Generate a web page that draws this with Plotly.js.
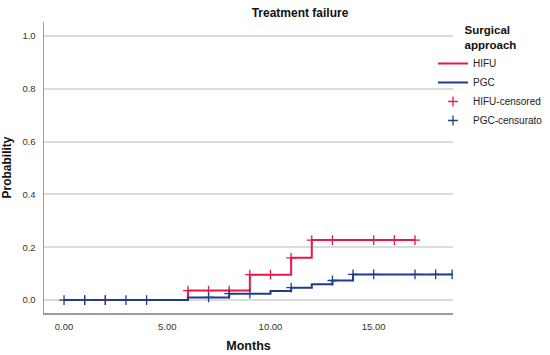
<!DOCTYPE html>
<html>
<head>
<meta charset="utf-8">
<script src="https://cdn.plot.ly/plotly-3.0.1.min.js"></script>
<style>html,body{margin:0;padding:0;background:#fff;}#chart{width:550px;height:355px;}</style>
</head>
<body>
<div id="chart"></div>
<script>
// Kaplan-Meier style step data (cumulative probability of treatment failure)
const hifuTime = [0, 6, 9, 11, 12, 17];
const hifuProb = [0, 0.036, 0.096, 0.160, 0.227, 0.227];
const pgcTime = [0, 6, 8, 10, 11, 12, 13, 14, 18.8];
const pgcProb = [0, 0.010, 0.024, 0.034, 0.047, 0.060, 0.074, 0.097, 0.097];

// Censored observations
const hifuCensTime = [1, 2, 6, 7, 8, 9, 10, 11, 12, 13, 15, 16, 17];
const hifuCensProb = [0, 0, 0.036, 0.036, 0.036, 0.096, 0.096, 0.160, 0.227, 0.227, 0.227, 0.227, 0.227];
const pgcCensTime = [0, 1, 2, 3, 4, 7, 8, 9, 11, 13, 14, 15, 17, 18, 18.8];
const pgcCensProb = [0, 0, 0, 0, 0, 0.010, 0.024, 0.024, 0.047, 0.074, 0.097, 0.097, 0.097, 0.097, 0.097];

const seriesNames = ['HIFU', 'PGC', 'HIFU-censored', 'PGC-censurato'];
const xTickVals = [0, 5, 10, 15];
const yTickVals = [0, 0.2, 0.4, 0.6, 0.8, 1.0];

const red = '#e31a4c';
const blue = '#1f3d8f';
const font = 'Liberation Sans, Arial, sans-serif';

const traces = [
  {x: hifuTime, y: hifuProb, name: seriesNames[0], mode: 'lines', line: {shape: 'hv', color: red, width: 2}},
  {x: pgcTime, y: pgcProb, name: seriesNames[1], mode: 'lines', line: {shape: 'hv', color: blue, width: 2}},
  {x: hifuCensTime, y: hifuCensProb, name: seriesNames[2], mode: 'markers',
   marker: {symbol: 'cross-thin-open', size: 7, color: red, line: {color: red, width: 1.3}}},
  {x: pgcCensTime, y: pgcCensProb, name: seriesNames[3], mode: 'markers',
   marker: {symbol: 'cross-thin-open', size: 7, color: blue, line: {color: blue, width: 1.3}}}
];

const layout = {
  width: 550, height: 355,
  margin: {l: 44, r: 97, t: 22, b: 42, pad: 0, autoexpand: false},
  paper_bgcolor: '#fff', plot_bgcolor: '#fff',
  font: {family: font, size: 10, color: '#333'},
  title: {text: '<b>Treatment failure</b>', font: {family: font, size: 12, color: '#111'},
          x: 300/550, xref: 'container', xanchor: 'center', y: 1 - 13/355, yref: 'container', yanchor: 'middle'},
  xaxis: {
    range: [-0.97, 18.84], tickvals: xTickVals, tickformat: '.2f',
    showgrid: false, zeroline: false, showline: true, linecolor: '#9a9a9a', linewidth: 1.5,
    ticks: '', ticklabelstandoff: 4, tickfont: {size: 9.5, color: '#333'},
    title: {text: '<b>Months</b>', font: {family: font, size: 12.5, color: '#111'}, standoff: 10}
  },
  yaxis: {
    range: [-0.049, 1.053], tickvals: yTickVals, tickformat: '.1f',
    showgrid: true, gridcolor: '#dcdcdc', gridwidth: 2, zeroline: false,
    showline: true, linecolor: '#9a9a9a', linewidth: 1.5,
    ticks: '', ticklabelstandoff: 5, tickfont: {size: 9.5, color: '#333'},
    title: {text: '<b>Probability</b>', font: {family: font, size: 12, color: '#111'}, standoff: 12}
  },
  legend: {
    x: (433 - 44) / 409, xanchor: 'left', y: 1.01, yanchor: 'top',
    bgcolor: 'rgba(0,0,0,0)', itemwidth: 30, tracegroupgap: 0,
    font: {family: font, size: 10, color: '#222'},
    title: {text: '<b>Surgical<br>approach</b>', side: 'top center', font: {family: font, size: 11.5, color: '#111'}}
  },
  showlegend: true
};

Plotly.newPlot('chart', traces, layout, {staticPlot: true, displayModeBar: false});
</script>
</body>
</html>
